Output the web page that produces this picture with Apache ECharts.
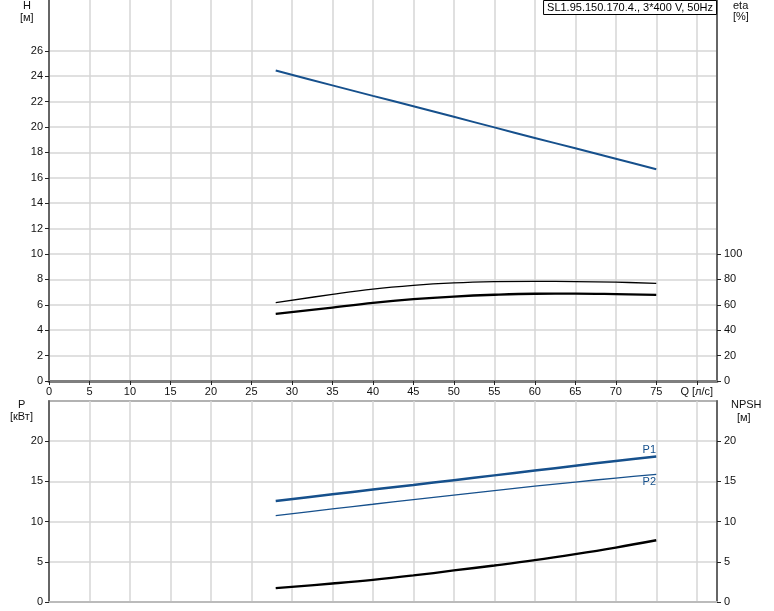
<!DOCTYPE html>
<html><head><meta charset="utf-8">
<script src="https://cdn.jsdelivr.net/npm/echarts@6/dist/echarts.min.js"></script>
<style>html,body{margin:0;padding:0;background:#fff}#c{width:774px;height:611px}</style>
</head><body><div id="c"></div>
<script>
var Q = [28, 35, 40, 45, 50, 55, 60, 65, 70, 75];
var H = [24.45, 23.28, 22.45, 21.63, 20.8, 19.97, 19.14, 18.32, 17.5, 16.68];
var ETA1 = [61.7, 68.2, 72.4, 75.3, 77.2, 78.2, 78.5, 78.3, 77.8, 76.9];
var ETA2 = [52.8, 57.8, 61.5, 64.4, 66.5, 67.9, 68.7, 68.8, 68.4, 67.8];
var P1 = [12.57, 13.4, 13.98, 14.56, 15.15, 15.75, 16.35, 16.95, 17.55, 18.1];
var P2 = [10.74, 11.58, 12.16, 12.74, 13.3, 13.86, 14.4, 14.92, 15.42, 15.87];
var NPSH = [1.73, 2.3, 2.75, 3.3, 3.92, 4.54, 5.2, 5.95, 6.77, 7.68];
var xTicks = [0,5,10,15,20,25,30,35,40,45,50,55,60,65,70,75,80];
var hTicks = [0,2,4,6,8,10,12,14,16,18,20,22,24,26];
var etaTicks = [0,20,40,60,80,100];
var pTicks = [0,5,10,15,20];
var TITLE = 'SL1.95.150.170.4., 3*400 V, 50Hz';

function pairs(ys){ return Q.map(function(q,i){return [q, ys[i]];}); }
var F = 'Liberation Sans, Arial, sans-serif';
var gridC = '#d6d6d6', axC = '#7f7f7f', blue = '#16508c';
var lab = {color:'#111', fontSize:11, fontFamily:F};

var chart = echarts.init(document.getElementById('c'), null, {renderer:'canvas'});
chart.setOption({
  animation:false,
  title:{text:TITLE, right:57, top:0, padding:[2,4,2,4], borderWidth:1, borderColor:'#000', backgroundColor:'#fff',
    textStyle:{fontSize:11, fontWeight:'normal', color:'#000', fontFamily:F}, z:10},
  grid:[
    {left:49, top:0, width:668, height:381},
    {left:49, top:401, width:668, height:201, show:true, borderColor:'#999', borderWidth:1.5, backgroundColor:'transparent'}
  ],
  xAxis:[
    {gridIndex:0, type:'value', min:0, max:82.5, interval:5,
     axisLine:{show:true, onZero:false, lineStyle:{color:axC, width:3}},
     axisTick:{show:true, length:4, lineStyle:{color:'#222'}, customValues:xTicks},
     axisLabel:{show:true, margin:5, customValues:xTicks, formatter:function(v){return v===80?'Q [л/с]':String(v);}, color:'#111', fontSize:11, fontFamily:F},
     splitLine:{show:true, lineStyle:{color:gridC, width:1.5}}},
    {gridIndex:1, type:'value', min:0, max:82.5, interval:5,
     axisLine:{show:true, onZero:false, lineStyle:{color:'#bbb', width:2}},
     axisTick:{show:false}, axisLabel:{show:false},
     splitLine:{show:true, lineStyle:{color:gridC, width:1.5}}}
  ],
  yAxis:[
    {gridIndex:0, type:'value', min:0, max:30, interval:2, position:'left',
     axisLine:{show:true, onZero:false, lineStyle:{color:'#666', width:2}},
     axisTick:{show:true, length:4, lineStyle:{color:'#222'}, customValues:hTicks},
     axisLabel:Object.assign({customValues:hTicks, margin:6}, lab),
     splitLine:{show:true, lineStyle:{color:gridC, width:1.5}}},
    {gridIndex:0, type:'value', min:0, max:300, interval:20, position:'right',
     axisLine:{show:true, onZero:false, lineStyle:{color:'#666', width:2}},
     axisTick:{show:true, length:4, lineStyle:{color:'#222'}, customValues:etaTicks},
     axisLabel:Object.assign({customValues:etaTicks, margin:7}, lab),
     splitLine:{show:false}},
    {gridIndex:1, type:'value', min:0, max:25, interval:5, position:'left',
     axisLine:{show:true, onZero:false, lineStyle:{color:'#666', width:2}},
     axisTick:{show:true, length:4, lineStyle:{color:'#222'}, customValues:pTicks},
     axisLabel:Object.assign({customValues:pTicks, margin:6}, lab),
     splitLine:{show:true, lineStyle:{color:gridC, width:1.5}}},
    {gridIndex:1, type:'value', min:0, max:25, interval:5, position:'right',
     axisLine:{show:true, onZero:false, lineStyle:{color:'#666', width:2}},
     axisTick:{show:true, length:4, lineStyle:{color:'#222'}, customValues:pTicks},
     axisLabel:Object.assign({customValues:pTicks, margin:7}, lab),
     splitLine:{show:false}}
  ],
  series:[
    {type:'line', xAxisIndex:0, yAxisIndex:0, data:pairs(H), smooth:0.3, showSymbol:false, lineStyle:{color:blue, width:2}},
    {type:'line', xAxisIndex:0, yAxisIndex:1, data:pairs(ETA1), smooth:0.4, showSymbol:false, lineStyle:{color:'#000', width:1.3}},
    {type:'line', xAxisIndex:0, yAxisIndex:1, data:pairs(ETA2), smooth:0.4, showSymbol:false, lineStyle:{color:'#000', width:2.3}},
    {type:'line', xAxisIndex:1, yAxisIndex:2, data:pairs(P1), smooth:0.3, showSymbol:false, lineStyle:{color:blue, width:2.5},
     endLabel:{show:true, formatter:'P1', align:'center', verticalAlign:'bottom', distance:0, offset:[-7,-1], color:blue, fontSize:11, fontFamily:F}},
    {type:'line', xAxisIndex:1, yAxisIndex:2, data:pairs(P2), smooth:0.3, showSymbol:false, lineStyle:{color:blue, width:1.3},
     endLabel:{show:true, formatter:'P2', align:'center', verticalAlign:'top', distance:0, offset:[-7,2], color:blue, fontSize:11, fontFamily:F}},
    {type:'line', xAxisIndex:1, yAxisIndex:3, data:pairs(NPSH), smooth:0.4, showSymbol:false, lineStyle:{color:'#000', width:2.3}}
  ],
  graphic:[
    {type:'text', left:23, top:0, style:{text:'H', fontSize:11, fontFamily:F, fill:'#111'}},
    {type:'text', left:20, top:12, style:{text:'[м]', fontSize:11, fontFamily:F, fill:'#111'}},
    {type:'text', left:733, top:0, style:{text:'eta', fontSize:11, fontFamily:F, fill:'#111'}},
    {type:'text', left:733, top:11, style:{text:'[%]', fontSize:11, fontFamily:F, fill:'#111'}},
    {type:'text', left:18, top:399, style:{text:'P', fontSize:11, fontFamily:F, fill:'#111'}},
    {type:'text', left:10, top:411, style:{text:'[кВт]', fontSize:11, fontFamily:F, fill:'#111'}},
    {type:'text', left:731, top:399, style:{text:'NPSH', fontSize:11, fontFamily:F, fill:'#111'}},
    {type:'text', left:737, top:412, style:{text:'[м]', fontSize:11, fontFamily:F, fill:'#111'}}
  ]
});
</script></body></html>
